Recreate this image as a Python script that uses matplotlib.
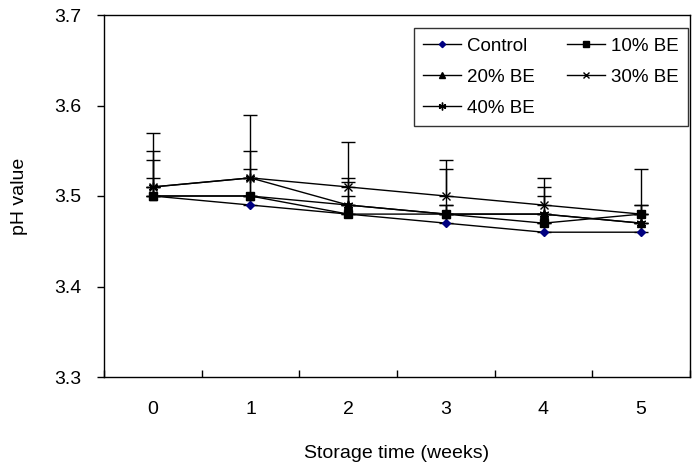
import numpy as np
import matplotlib.pyplot as plt
from matplotlib.lines import Line2D

plt.rcParams['font.family'] = ['Liberation Sans', 'DejaVu Sans']

weeks = [0, 1, 2, 3, 4, 5]

control = [3.50, 3.49, 3.48, 3.47, 3.46, 3.46]
be10 = [3.50, 3.50, 3.48, 3.48, 3.47, 3.48]
be20 = [3.50, 3.50, 3.49, 3.48, 3.48, 3.47]
be30 = [3.51, 3.52, 3.51, 3.50, 3.49, 3.48]
be40 = [3.51, 3.52, 3.49, 3.48, 3.48, 3.47]

# upper error only
err_control = [0.04, 0.01, 0.02, 0.01, 0.01, 0.01]
err_be10 = [0.02, 0.03, 0.01, 0.01, 0.01, 0.05]
err_be20 = [0.01, 0.02, 0.025, 0.01, 0.02, 0.01]
err_be30 = [0.06, 0.07, 0.05, 0.04, 0.03, 0.01]
err_be40 = [0.04, 0.03, 0.03, 0.05, 0.03, 0.02]

series = [
    ('Control', control, err_control, dict(marker='D', markersize=4, markerfacecolor='#000080', markeredgecolor='#000080')),
    ('10% BE', be10, err_be10, dict(marker='s', markersize=6, markerfacecolor='black', markeredgecolor='black')),
    ('20% BE', be20, err_be20, dict(marker='^', markersize=6, markerfacecolor='black', markeredgecolor='black')),
    ('30% BE', be30, err_be30, dict(marker='x', markersize=6, markeredgecolor='black', markeredgewidth=1)),
    ('40% BE', be40, err_be40, dict(marker=(6, 2, 0), markersize=7, markeredgecolor='black', markeredgewidth=1)),
]

fig = plt.figure(figsize=(7, 4.68), dpi=100)
ax = fig.add_axes([104 / 700, 91 / 468, 586 / 700, 362 / 468])

handles = []
for name, vals, err, style in series:
    lower = np.zeros(len(err))
    ax.errorbar(weeks, vals, yerr=[lower, err], color='black', lw=1,
                elinewidth=1, capsize=5, capthick=1, **style)
    small = dict(style)
    small['markersize'] = style['markersize'] * 0.8
    handles.append(Line2D([], [], color='black', lw=1, label=name, **small))

ax.set_xlim(-0.5, 5.5)
ax.set_ylim(3.3, 3.7)
ax.set_yticks([3.3, 3.4, 3.5, 3.6, 3.7])
ax.set_yticklabels(['3.3', '3.4', '3.5', '3.6', '3.7'])
ax.tick_params(axis='y', direction='out', length=5, width=1, labelsize=14, pad=11)

ax.set_xticks(np.arange(-0.5, 6.0, 1.0))
ax.set_xticklabels([])
ax.tick_params(axis='x', which='major', direction='in', length=5, width=1)
ax.set_xticks(weeks, minor=True)
ax.set_xticklabels([str(w) for w in weeks], minor=True)
ax.tick_params(axis='x', which='minor', length=0, labelsize=14, pad=17)

for sp in ax.spines.values():
    sp.set_linewidth(1)

ax.set_xlabel('Storage time (weeks)', fontsize=14, labelpad=20)
ax.set_ylabel('pH value', fontsize=14, labelpad=19)

# row-major order like the original legend
order = [0, 2, 4, 1, 3]
leg = ax.legend(handles=[handles[i] for i in order], ncol=2, loc='upper right',
                bbox_to_anchor=(0.997, 0.964),
                fontsize=13.5, frameon=True, fancybox=False, edgecolor='black',
                handlelength=2.0, columnspacing=1.7, borderpad=0.5,
                labelspacing=0.75, handletextpad=0.35, borderaxespad=0)
leg.get_frame().set_linewidth(1)

fig.savefig('out.png', dpi=100)
